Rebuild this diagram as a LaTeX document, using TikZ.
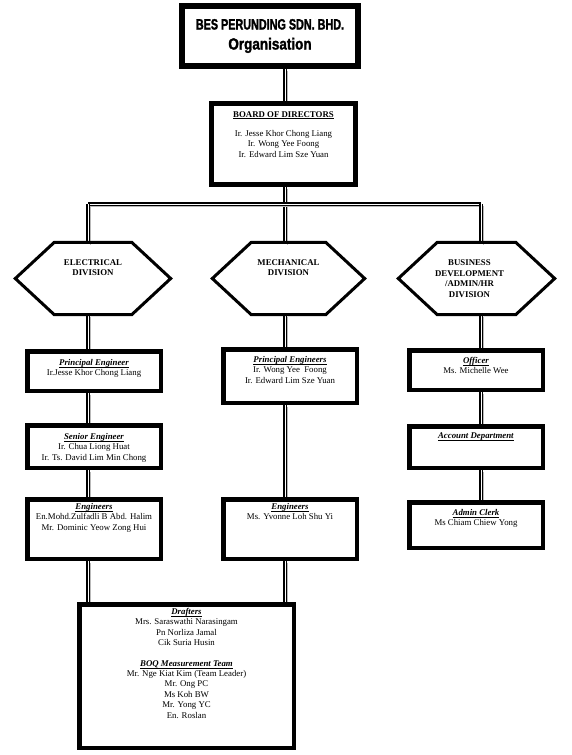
\documentclass[tikz,border=0pt]{standalone}
\usepackage{graphicx}
\usepackage{fontspec}
\setmainfont{Liberation Serif}
\newfontfamily\titlefont[FakeStretch=0.72, FakeBold=1.6]{Liberation Sans}
\usetikzlibrary{positioning}
\pgfdeclarelayer{background}
\pgfsetlayers{background,main}
\newcommand{\rolehead}[1]{\setbox0\hbox{\textbf{\textit{#1}}}%
  \rlap{\rule[-2.2pt]{\wd0}{0.5pt}}\box0}

\begin{document}
\begin{tikzpicture}[
      x=1pt, y=-1pt,
      org/.style={draw, line width=4.5pt, inner sep=0pt, minimum width=133.5pt},
      txt/.style={inner sep=0pt, align=center, font=\fontsize{8.8}{10.4}\selectfont},
      divtxt/.style={txt, font=\fontsize{8.8}{10.6}\selectfont\bfseries},
      hexa/.style={inner sep=0pt, minimum height=72pt},
      hexline/.style={line width=3pt, line join=miter},
      link/.style={preaction={draw=gray!55, line width=1.6pt,
                     transform canvas={shift={(2.4pt,-2.4pt)}}},
                   draw, double=white, double distance=1pt, line width=1.1pt}]
    \useasboundingbox (0,0) rectangle (571,755);
    \coordinate (colE) at (88,0);
    \coordinate (colM) at (285,0);
    \coordinate (colB) at (481,0);
    \coordinate (trunkL) at (88,204);
    \coordinate (trunkR) at (481,204);

    % top of the chart
    \node[org, line width=6pt, minimum width=176pt, minimum height=60pt, align=center,
          font=\titlefont\bfseries\fontsize{15}{20}\selectfont] (title) at (270,36)
          {BES PERUNDING SDN. BHD.\\\scalebox{1.25}[1.08]{Organisation}};
    \node[org, line width=5pt, minimum width=144pt, minimum height=81pt] (board) at (283.5,144) {};
    \node[txt, below=10pt of board.north] (boardtxt) {\textbf{\underline{BOARD OF DIRECTORS}}\\[9pt]
          Ir. Jesse Khor Chong Liang\\Ir. Wong Yee Foong\\Ir. Edward Lim Sze Yuan};

    % divisions
    \node[hexa, minimum width=155pt] (elec) at (93,278.5) {};
    \node[hexa, minimum width=152pt] (mech) at (288.5,278.5) {};
    \node[hexa, minimum width=156pt] (bus) at (476.5,278.5) {};
    \foreach \h in {elec,mech,bus}
      \draw[hexline] (\h.west) -- ([xshift=39pt]\h.north west) -- ([xshift=-39pt]\h.north east)
        -- (\h.east) -- ([xshift=-39pt]\h.south east) -- ([xshift=39pt]\h.south west) -- cycle;
    \node[divtxt] (electxt) at ([yshift=11pt]elec.center) {ELECTRICAL\\DIVISION};
    \node[divtxt] (mechtxt) at ([yshift=11pt]mech.center) {MECHANICAL\\DIVISION};
    \node[divtxt] (bustxt) at ([xshift=-7pt]bus.center) {BUSINESS\\DEVELOPMENT\\/ADMIN/HR\\DIVISION};

    % electrical
    \node[org, minimum height=39.5pt] (pe) at (94,371) {};
    \node[txt, below=10pt of pe.north] (petxt) {\rolehead{Principal Engineer}\\Ir.Jesse Khor Chong Liang};
    \node[org, minimum height=42.5pt] (se) at (94,446.5) {};
    \node[txt, below=10pt of se.north] (setxt) {\rolehead{Senior Engineer}\\Ir. Chua Liong Huat\\Ir. Ts. David Lim Min Chong};
    \node[org, minimum height=59.5pt] (en) at (94,529) {};
    \node[txt, below=6pt of en.north] (entxt) {\rolehead{Engineers}\\En.Mohd.Zulfadli B Abd. Halim\\Mr. Dominic Yeow Zong Hui};

    % mechanical
    \node[org, minimum height=53.5pt] (mpe) at (290,376) {};
    \node[txt, below=9pt of mpe.north] (mpetxt) {\rolehead{Principal Engineers}\\Ir. Wong Yee\ \ Foong\\Ir. Edward Lim Sze Yuan};
    \node[org, minimum height=59.5pt] (men) at (290,529) {};
    \node[txt, below=6pt of men.north] (mentxt) {\rolehead{Engineers}\\Ms. Yvonne Loh Shu Yi};

    % business development
    \node[org, minimum height=39.5pt] (off) at (476,370) {};
    \node[txt, below=9pt of off.north] (offtxt) {\rolehead{Officer}\\Ms. Michelle Wee};
    \node[org, minimum height=41.5pt] (acc) at (476,447) {};
    \node[txt, below=8pt of acc.north] (acctxt) {\rolehead{Account Department}};
    \node[org, minimum height=45.5pt] (adm) at (476,525) {};
    \node[txt, below=9pt of adm.north] (admtxt) {\rolehead{Admin Clerk}\\Ms Chiam Chiew Yong};

    % drafters
    \node[org, minimum width=214.5pt, minimum height=143.5pt] (dr) at (186.5,676) {};
    \node[txt, below=6pt of dr.north] (drtxt) {\rolehead{Drafters}\\Mrs. Saraswathi Narasingam\\Pn Norliza Jamal\\Cik Suria Husin\\[10pt]
          \rolehead{BOQ Measurement Team}\\Mr. Nge Kiat Kim (Team Leader)\\Mr. Ong PC\\Ms Koh BW\\Mr. Yong YC\\En. Roslan};

    \begin{pgfonlayer}{background}
      \draw[link] (title.south -| colM) -- (board.north -| colM);
      \draw[link] (board.south -| colM) -- (mech.north -| colM);
      \draw[link] (trunkL) -- (trunkR);
      \draw[link] (trunkL) -- (elec.north -| trunkL);
      \draw[link] (trunkR) -- (bus.north -| trunkR);
      \foreach \a/\b/\c in {elec/pe/colE, pe/se/colE, se/en/colE, en/dr/colE,
                            mech/mpe/colM, mpe/men/colM, men/dr/colM,
                            bus/off/colB, off/acc/colB, acc/adm/colB}
        \draw[link] (\a.south -| \c) -- (\b.north -| \c);
    \end{pgfonlayer}
  \end{tikzpicture}
\end{document}
